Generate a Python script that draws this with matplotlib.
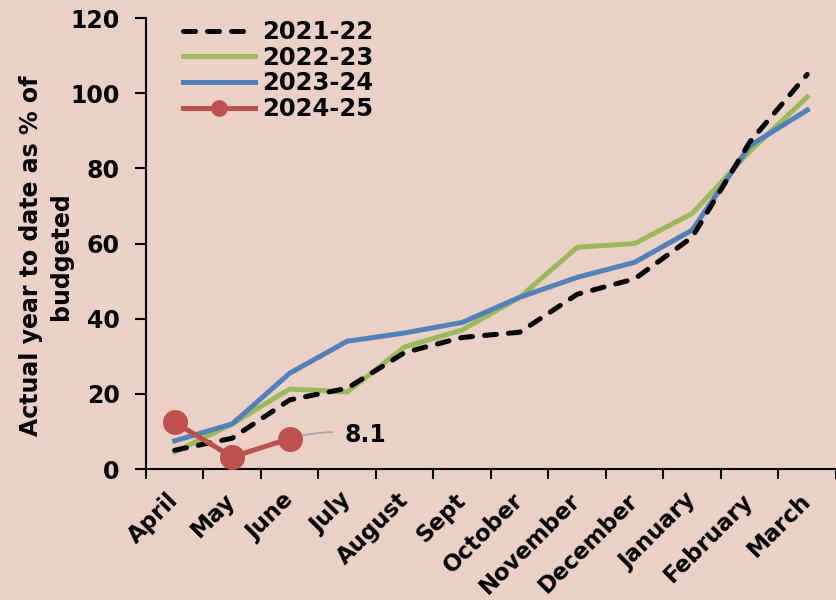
import matplotlib
matplotlib.use("Agg")
import matplotlib.pyplot as plt
import numpy as np

months = ["April", "May", "June", "July", "August", "Sept", "October",
          "November", "December", "January", "February", "March"]
fy_2021_22 = [5.0, 8.2, 18.4, 21.5, 31.0, 35.0, 36.4, 46.5, 50.6, 61.7, 87.0, 105.0]
fy_2022_23 = [4.5, 12.0, 21.3, 20.5, 32.5, 37.0, 45.7, 59.0, 60.0, 68.0, 84.5, 99.0]
fy_2023_24 = [7.5, 12.0, 25.5, 34.0, 36.2, 39.0, 45.7, 51.0, 55.0, 63.6, 86.0, 95.5]
fy_2024_25 = [12.4, 3.2, 8.1]
last_label = "8.1"

bg = "#EBD0C6"
plt.rcParams["font.family"] = ["DejaVu Sans"]
plt.rcParams["font.weight"] = "bold"

fig = plt.figure(figsize=(8.36, 6.0), dpi=100, facecolor=bg)
ax = fig.add_axes([0.1746, 0.2183, 0.8254, 0.7517], facecolor=bg)

x = np.arange(len(months))
lw = 3.6
ax.plot(x, fy_2021_22, color="black", lw=lw, ls=(0, (2.4, 2.4)),
        dash_capstyle="round", label="2021-22", zorder=3)
ax.plot(x, fy_2022_23, color="#9BBB59", lw=lw, label="2022-23", zorder=2)
ax.plot(x, fy_2023_24, color="#4F81BD", lw=lw, label="2023-24", zorder=2)
xr = x[:len(fy_2024_25)]
ax.plot(xr, fy_2024_25, color="#C0504D", lw=lw, marker="o", ms=17,
        label="2024-25", zorder=4)

# callout for the latest value
ax.annotate(last_label, xy=(xr[-1], fy_2024_25[-1]),
            xytext=(xr[-1] + 0.96, fy_2024_25[-1] + 0.9),
            fontsize=17, fontweight="bold", va="center", ha="left",
            arrowprops=dict(arrowstyle="-", color="#A6A6A6", lw=1.3,
                            connectionstyle="arc3,rad=0.12",
                            shrinkA=7, shrinkB=0),
            zorder=3.5)

ax.set_xlim(-0.5, len(months) - 0.5)
ax.set_ylim(0, 120)
ax.set_yticks(np.arange(0, 121, 20))
ax.set_xticks(x)
ax.set_xticklabels(months, rotation=45, ha="right", va="center",
                   rotation_mode="anchor", fontsize=16.5, fontweight="bold")
ax.set_xticks(np.arange(-0.5, len(months), 1.0), minor=True)
ax.tick_params(axis="x", which="major", length=0, pad=20)
ax.tick_params(axis="x", which="minor", length=7, width=1.5, direction="out")
ax.tick_params(axis="y", length=8, width=1.5, direction="out", labelsize=17, pad=11)
for lab in ax.get_yticklabels():
    lab.set_fontweight("bold")

for s in ["top", "right"]:
    ax.spines[s].set_visible(False)
for s in ["left", "bottom"]:
    ax.spines[s].set_linewidth(1.5)

fig.text(46 / 836, 1 - 256 / 600, "Actual year to date as % of\nbudgeted",
         rotation=90, ha="center", va="center", multialignment="center",
         fontsize=17, fontweight="bold", linespacing=1.3)

leg = ax.legend(loc="upper left", bbox_to_anchor=(0.040, 1.017), frameon=False,
                fontsize=17.5, handlelength=2.95, handletextpad=0.3,
                labelspacing=0.07, borderaxespad=0)
for t in leg.get_texts():
    t.set_fontweight("bold")
leg.legend_handles[3].set_markersize(11)

fig.savefig("out.png", dpi=100, facecolor=bg)
